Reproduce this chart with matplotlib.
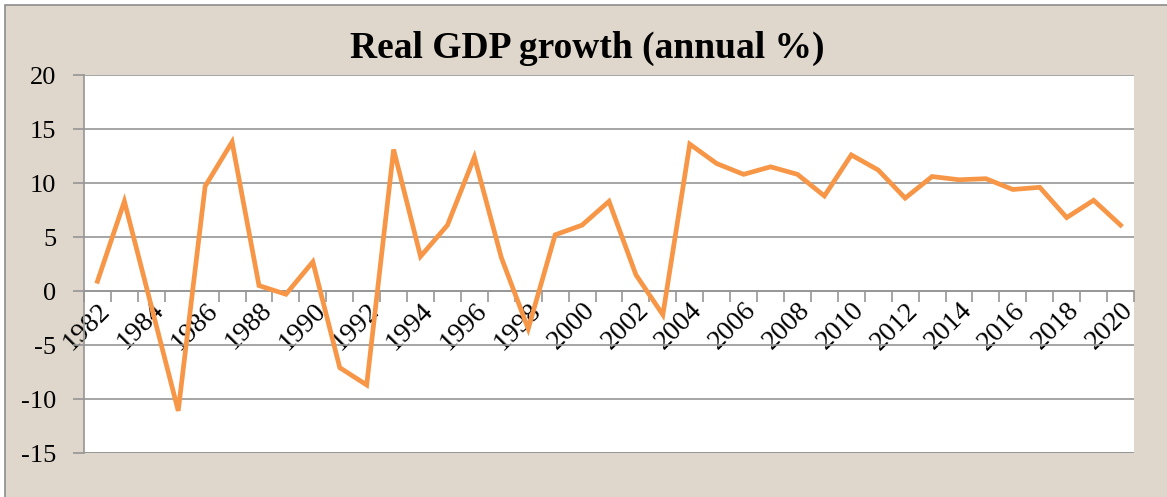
import numpy as np
import matplotlib
matplotlib.use("Agg")
import matplotlib.pyplot as plt
from matplotlib.patches import Rectangle

years = list(range(1982, 2021))
growth = [0.9, 8.3, -1.4, -11.1, 9.7, 13.8, 0.5, -0.3, 2.7, -7.1, -8.7, 13.1,
          3.2, 6.1, 12.4, 3.1, -3.5, 5.2, 6.1, 8.3, 1.5, -2.2, 13.6, 11.8,
          10.8, 11.5, 10.8, 8.8, 12.6, 11.2, 8.6, 10.6, 10.3, 10.4, 9.4, 9.6,
          6.8, 8.4, 6.1]
title = "Real GDP growth (annual %)"
yticks = [-15, -10, -5, 0, 5, 10, 15, 20]

plt.rcParams['font.family'] = ['Liberation Serif', 'DejaVu Serif']
plt.rcParams['axes.unicode_minus'] = False

W, H = 1167, 497
fig = plt.figure(figsize=(W / 100, H / 100), dpi=100)
fig.patch.set_facecolor('white')
bg = Rectangle((5 / W, -0.1), 1.2, (1 - 5 / H) + 0.1, transform=fig.transFigure,
               facecolor='#DFD7CB', edgecolor='#8C8C8C', linewidth=1.2, zorder=-10)
fig.patches.append(bg)

ax = fig.add_axes([84 / W, 1 - 453 / H, (1134 - 84) / W, (453 - 75) / H])
ax.set_facecolor('white')

# spine placement first (it resets tick settings)
ax.spines['bottom'].set_position(('data', 0))
ax.spines['bottom'].set_color('#969696')
ax.spines['bottom'].set_linewidth(1.2)
ax.spines['left'].set_color('#969696')
ax.spines['left'].set_linewidth(1.2)
ax.spines['top'].set_visible(False)
ax.spines['right'].set_visible(False)

x = np.arange(len(years))
ax.plot(x, growth, color='#F79646', linewidth=3.4, solid_joinstyle='miter', zorder=3)

ax.set_xlim(-0.5, len(years) - 0.5)
ax.set_ylim(-15, 20)
ax.set_yticks(yticks)
ax.set_yticklabels([str(v) for v in yticks], fontsize=19)
ax.grid(axis='y', color='#969696', linewidth=1.2, zorder=1)
ax.tick_params(axis='y', length=8, width=1.2, color='#969696', pad=12)

lab_idx = x[::2]
ax.set_xticks(lab_idx)
ax.set_xticklabels([str(years[i]) for i in lab_idx], rotation=45, ha='right',
                   va='top', rotation_mode='anchor', fontsize=20)
ax.tick_params(axis='x', which='major', length=0, pad=5)
ax.set_xticks(np.arange(len(years) + 1) - 0.5, minor=True)
ax.tick_params(axis='x', which='minor', length=8, width=1.2, color='#969696',
               direction='out')

ax.axhline(-15, color='#969696', linewidth=1.4, zorder=2)

fig.text(0.5 * (340 + 835) / W, 1 - 48 / H, title, fontsize=27, fontweight='bold',
         ha='center', va='center')

fig.savefig('out.png', dpi=100, facecolor=fig.get_facecolor())
